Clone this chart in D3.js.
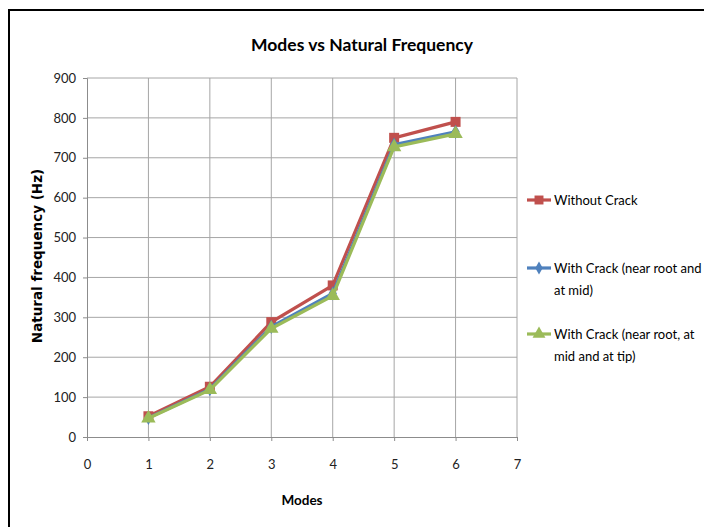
<!DOCTYPE html>
<html><head><meta charset="utf-8">
<script src="https://cdn.jsdelivr.net/npm/d3@7"></script>
<style>body{margin:0;background:#fff}svg{display:block}</style>
</head><body>
<svg id="c" width="704" height="527"></svg>
<script>
const modes = [1, 2, 3, 4, 5, 6];
const withoutCrack = [52, 126, 288, 380, 750, 790];
const crackRootMid = [48, 120, 276, 360, 733, 765];
const crackRootMidTip = [47, 118, 272, 354, 727, 760];
const seriesNames = ["Without Crack", "With Crack (near root and|at mid)", "With Crack (near root, at|mid and at tip)"];
const xTicks = [0, 1, 2, 3, 4, 5, 6, 7];
const yTicks = [0, 100, 200, 300, 400, 500, 600, 700, 800, 900];

const svg = d3.select("#c");
const font = "Lato, 'Open Sans', sans-serif";
svg.append("rect").attr("x", 9).attr("y", 10).attr("width", 720).attr("height", 540)
  .attr("fill", "#fff").attr("stroke", "#000").attr("stroke-width", 2);

const x = d3.scaleLinear().domain([0, 7]).range([87, 517]);
const y = d3.scaleLinear().domain([0, 900]).range([437, 78]);

// grid
svg.append("g").selectAll("line").data(yTicks.slice(1)).join("line")
  .attr("x1", x(0)).attr("x2", x(7)).attr("y1", d => y(d)).attr("y2", d => y(d))
  .attr("stroke", "#a6a6a6").attr("stroke-width", 1);
svg.append("g").selectAll("line").data(xTicks.slice(1)).join("line")
  .attr("y1", y(0)).attr("y2", y(900)).attr("x1", d => x(d)).attr("x2", d => x(d))
  .attr("stroke", "#a6a6a6").attr("stroke-width", 1);

const yAxis = svg.append("g").attr("transform", `translate(${x(0)},0)`)
  .call(d3.axisLeft(y).tickValues(yTicks).tickFormat(d3.format("d")).tickSize(4).tickPadding(7));
const xAxis = svg.append("g").attr("transform", `translate(0,${y(0)})`)
  .call(d3.axisBottom(x).tickValues(xTicks).tickFormat(d3.format("d")).tickSize(4).tickPadding(19));
[yAxis, xAxis].forEach(a => {
  a.select(".domain").attr("stroke", "#8c8c8c");
  a.selectAll(".tick line").attr("stroke", "#8c8c8c");
  a.selectAll("text").attr("font-family", font).attr("font-size", 13).attr("fill", "#222");
});

const colors = ["#C0504D", "#4F81BD", "#9BBB59"];
const data = [withoutCrack, crackRootMid, crackRootMidTip];
const line = d3.line().x((d, i) => x(modes[i])).y(d => y(d));
const sym = [d3.symbolSquare, d3.symbolDiamond, d3.symbolTriangle];
const sizes = [100, 60, 90];

data.forEach((s, k) => {
  svg.append("path").datum(s).attr("d", line).attr("fill", "none")
    .attr("stroke", colors[k]).attr("stroke-width", 3.2);
  svg.append("g").selectAll("path").data(s).join("path")
    .attr("transform", (d, i) => `translate(${x(modes[i])},${y(d)})`)
    .attr("d", d3.symbol().type(sym[k]).size(sizes[k]))
    .attr("fill", colors[k]);
});

// title
svg.append("text").attr("x", 362).attr("y", 51).attr("text-anchor", "middle")
  .attr("font-family", font).attr("font-weight", "bold").attr("font-size", 17.5)
  .attr("fill", "#000").text("Modes vs Natural Frequency");
svg.append("text").attr("x", 302).attr("y", 505).attr("text-anchor", "middle")
  .attr("font-family", font).attr("font-weight", "bold").attr("font-size", 13.5)
  .attr("fill", "#000").text("Modes");
svg.append("text").attr("transform", "translate(42,256) rotate(-90)").attr("text-anchor", "middle")
  .attr("font-family", "'DejaVu Sans', sans-serif").attr("font-weight", "bold").attr("font-size", 13.5)
  .attr("fill", "#000").text("Natural frequency (Hz)");

// legend
const legY = [200, 268, 334];
seriesNames.forEach((n, k) => {
  const g = svg.append("g").attr("transform", `translate(527,${legY[k]})`);
  g.append("line").attr("x1", 0).attr("x2", 24).attr("stroke", colors[k]).attr("stroke-width", 3.2);
  g.append("path").attr("transform", "translate(12,0)")
    .attr("d", d3.symbol().type(sym[k]).size(sizes[k] * 0.8)).attr("fill", colors[k]);
  const t = g.append("text").attr("x", 27).attr("y", 4.5).attr("font-family", font)
    .attr("font-size", 13).attr("fill", "#000");
  n.split("|").forEach((ln, j) => {
    t.append("tspan").attr("x", 27).attr("dy", j === 0 ? 0 : 22).text(ln);
  });
});
</script>
</body></html>
